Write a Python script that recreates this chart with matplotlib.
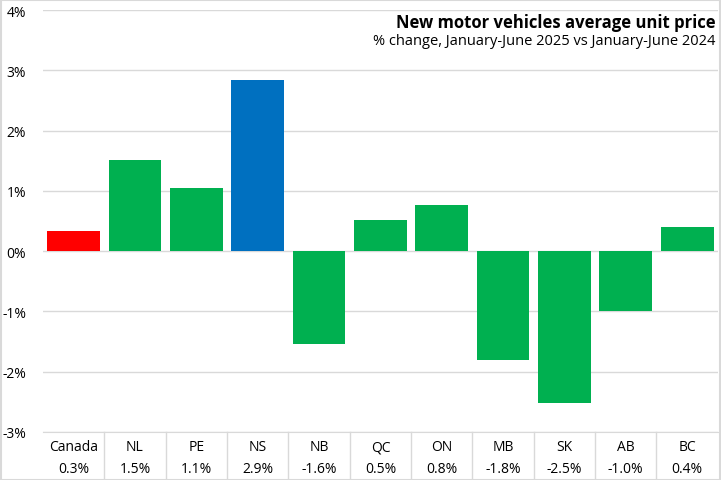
import matplotlib.pyplot as plt
from matplotlib.patches import Rectangle
from matplotlib.ticker import FuncFormatter

plt.rcParams['font.family'] = ['Open Sans', 'DejaVu Sans']

regions = ['Canada', 'NL', 'PE', 'NS', 'NB', 'QC', 'ON', 'MB', 'SK', 'AB', 'BC']
changes = [0.33, 1.51, 1.05, 2.84, -1.54, 0.51, 0.76, -1.81, -2.52, -1.0, 0.41]
labels = ['0.3%', '1.5%', '1.1%', '2.9%', '-1.6%', '0.5%', '0.8%', '-1.8%', '-2.5%', '-1.0%', '0.4%']
colors = ['#FF0000', '#00B050', '#00B050', '#0070C0'] + ['#00B050'] * 7

fig = plt.figure(figsize=(7.21, 4.81), dpi=100)
ax = fig.add_axes([0.0596, 0.0998, 0.936, 0.877])

x = list(range(len(regions)))
ax.bar(x, changes, width=0.86, color=colors, zorder=3)

ax.set_xlim(-0.5, len(regions) - 0.5)
ax.set_ylim(-3, 4)
ax.set_yticks(range(-3, 5))
ax.yaxis.set_major_formatter(FuncFormatter(lambda v, p: '%d%%' % v))
ax.tick_params(axis='y', length=0, labelsize=10, pad=12)
ax.set_xticks([])
ax.grid(axis='y', color='#d9d9d9', linewidth=1, zorder=0)
for s in ['top', 'right', 'left']:
    ax.spines[s].set_visible(False)
ax.spines['bottom'].set_color('#d9d9d9')

# table under the bars
tr = ax.get_xaxis_transform()
for i in x:
    ax.text(i, -0.035, regions[i], transform=tr, ha='center', va='center', fontsize=10)
    ax.text(i, -0.087, labels[i], transform=tr, ha='center', va='center', fontsize=10)
for i in range(len(regions) - 1):
    ax.plot([i + 0.5, i + 0.5], [0, -0.115], transform=tr, color='#d9d9d9', linewidth=1, clip_on=False)

fig.text(0.992, 0.953, 'New motor vehicles average unit price', ha='right', va='center',
         fontsize=12, fontweight='bold')
fig.text(0.992, 0.914, '% change, January-June 2025 vs January-June 2024', ha='right', va='center',
         fontsize=10.5)

fig.patches.append(Rectangle((0.001, 0.001), 0.997, 0.997, transform=fig.transFigure,
                             fill=False, edgecolor='#d9d9d9', linewidth=1.5))

fig.savefig('out.png', dpi=100)
